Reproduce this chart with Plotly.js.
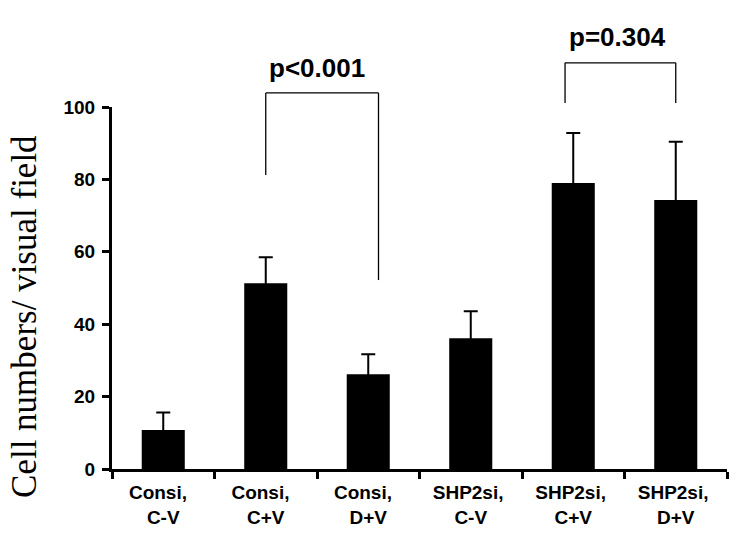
<!DOCTYPE html>
<html>
<head>
<meta charset="utf-8">
<script src="https://cdn.plot.ly/plotly-3.0.1.min.js"></script>
<style>html,body{margin:0;padding:0;background:#fff;}#chart{width:744px;height:552px;}</style>
</head>
<body>
<div id="chart"></div>
<script>
// Data
const groupLine1 = ["Consi,", "Consi,", "Consi,", "SHP2si,", "SHP2si,", "SHP2si,"];
const groupLine2 = ["C-V", "C+V", "D+V", "C-V", "C+V", "D+V"];
const means = [10.8, 51.3, 26.2, 36.1, 79.0, 74.3];
const errUp = [4.8, 7.2, 5.5, 7.5, 13.8, 16.1];
const yTitle = "Cell numbers/ visual field";

// Significance brackets
const bracketLeft = [1.0, 3.92];
const bracketRight = [2.1, 5.0];
const bracketTop = [103.9, 112.2];
const bracketLeftBottom = [81.2, 101.1];
const bracketRightBottom = [52.2, 101.1];
const bracketLabels = ["p&lt;0.001", "p=0.304"];
const bracketLabelX = [1.5, 4.43];
const bracketLabelY = [110.8, 119.3];

const nb = "\u00a0";
const cats = groupLine1.map((a, i) => a + (a.startsWith("Consi") ? nb + nb : nb) + "<br>" + groupLine2[i]);

const trace = {
  type: "bar",
  x: cats,
  y: means,
  width: 0.42,
  marker: {color: "#000000", line: {width: 0}},
  error_y: {
    type: "data", symmetric: true, array: errUp,
    color: "#000000", thickness: 2, width: 7
  },
  hoverinfo: "skip"
};

const shapes = [];
const annotations = [];
for (let k = 0; k < bracketLeft.length; k++) {
  const line = {color: "#000000", width: 1.3};
  shapes.push({type: "line", xref: "x", yref: "paper", x0: bracketLeft[k], x1: bracketLeft[k], y0: bracketLeftBottom[k] / 100, y1: bracketTop[k] / 100, line});
  shapes.push({type: "line", xref: "x", yref: "paper", x0: bracketLeft[k], x1: bracketRight[k], y0: bracketTop[k] / 100, y1: bracketTop[k] / 100, line});
  shapes.push({type: "line", xref: "x", yref: "paper", x0: bracketRight[k], x1: bracketRight[k], y0: bracketRightBottom[k] / 100, y1: bracketTop[k] / 100, line});
  annotations.push({
    xref: "x", yref: "paper", x: bracketLabelX[k], y: bracketLabelY[k] / 100,
    text: bracketLabels[k], showarrow: false, xanchor: "center", yanchor: "middle",
    font: {family: "Liberation Sans, Arial, sans-serif", size: 26, weight: "bold", color: "#000000"}
  });
}
annotations.push({
  xref: "paper", yref: "paper", x: 0, y: 0.42, xshift: -87,
  text: yTitle, textangle: -90, showarrow: false, xanchor: "center", yanchor: "middle",
  font: {family: "Liberation Serif, Times New Roman, serif", size: 35, color: "#000000"}
});

const layout = {
  width: 744, height: 552,
  margin: {l: 112, r: 17, t: 107, b: 83, pad: 0},
  paper_bgcolor: "#ffffff", plot_bgcolor: "#ffffff",
  showlegend: false,
  xaxis: {
    type: "category",
    range: [-0.5, 5.5],
    tickson: "boundaries",
    ticks: "outside", ticklen: 7, tickwidth: 3, tickcolor: "#000000",
    ticklabelstandoff: 4,
    showline: true, linewidth: 3, linecolor: "#000000",
    showgrid: false, zeroline: false,
    tickfont: {family: "Liberation Sans, Arial, sans-serif", size: 19, weight: "bold", color: "#000000"},
    automargin: false
  },
  yaxis: {
    range: [0, 100],
    tickvals: [0, 20, 40, 60, 80, 100],
    ticks: "outside", ticklen: 7, tickwidth: 3, tickcolor: "#000000",
    ticklabelstandoff: 3,
    showline: true, linewidth: 3, linecolor: "#000000",
    showgrid: false, zeroline: false,
    tickfont: {family: "Liberation Sans, Arial, sans-serif", size: 19, weight: "bold", color: "#000000"},
    automargin: false
  },
  shapes: shapes,
  annotations: annotations
};

Plotly.newPlot("chart", [trace], layout, {displayModeBar: false, staticPlot: true});
</script>
</body>
</html>
